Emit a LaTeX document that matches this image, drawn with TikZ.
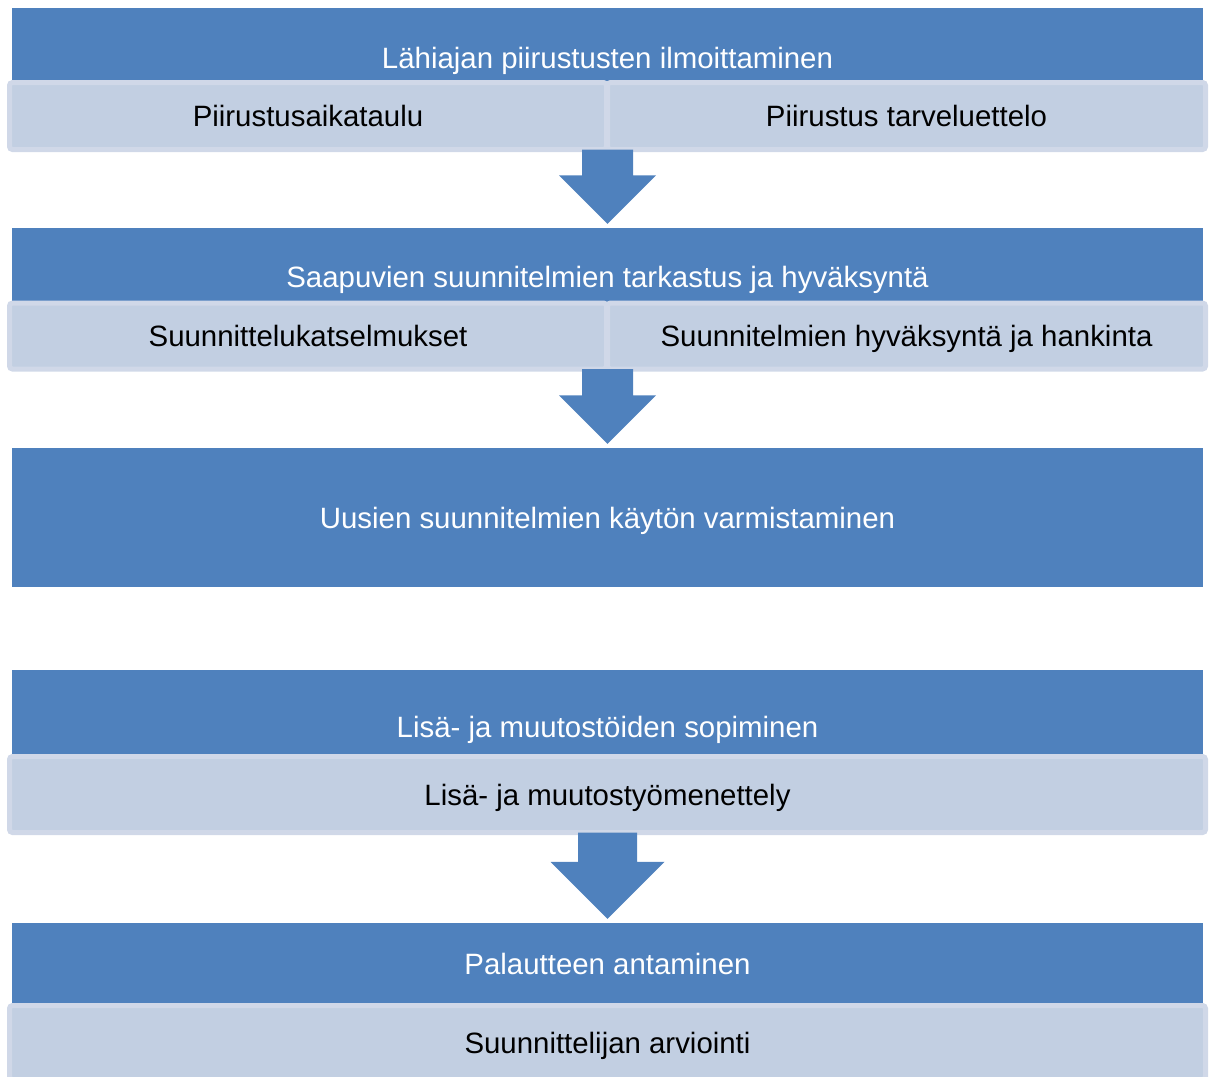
\documentclass[tikz,border=0pt]{standalone}
\usepackage{fontspec}
\setmainfont{Liberation Sans}
\usetikzlibrary{calc}

\definecolor{bandblue}{HTML}{4F81BD}
\definecolor{subfill}{HTML}{C2CFE2}
\definecolor{subline}{HTML}{D0D8E8}

% block arrow: from node, to node, half shaft, half head
\newcommand{\blockarrow}[4]{%
  \fill[bandblue] let \p1=(#1.south), \p2=(#2.north) in
    (\x2-#3pt,\y1+2.5pt) -- (\x2+#3pt,\y1+2.5pt) -- (\x2+#3pt,\y2+4pt+#4pt)
    -- (\x2+#4pt,\y2+4pt+#4pt) -- (\x2,\y2+4pt) -- (\x2-#4pt,\y2+4pt+#4pt)
    -- (\x2-#3pt,\y2+4pt+#4pt) -- cycle;}

\begin{document}
\begin{tikzpicture}[x=1pt,y=-1pt,
  band/.style={fill=bandblue,text=white,minimum width=1191pt,inner sep=0pt,
    text height=21pt,text depth=0pt,font=\fontsize{29.4}{34}\selectfont},
  sub/.style={fill=subfill,draw=subline,line width=5pt,rounded corners=3pt,
    inner sep=0pt,text height=21pt,text depth=0pt,text=black,
    font=\fontsize{29.4}{34}\selectfont}]

    \useasboundingbox (0,0) rectangle (1214,1076);

    \node[band,minimum height=100pt] (b1) at (607.5,58) {Lähiajan piirustusten ilmoittaminen};
    \node[sub,minimum width=597pt,minimum height=67pt] (s1l) at (308,116) {Piirustusaikataulu};
    \node[sub,minimum width=598pt,minimum height=67pt] (s1r) at (906.5,116) {Piirustus tarveluettelo};

    \node[band,minimum height=98pt] (b2) at (607.5,277) {Saapuvien suunnitelmien tarkastus ja hyväksyntä};
    \node[sub,minimum width=597pt,minimum height=66pt] (s2l) at (308,336) {Suunnittelukatselmukset};
    \node[sub,minimum width=598pt,minimum height=66pt] (s2r) at (906.5,336) {Suunnitelmien hyväksyntä ja hankinta};

    \node[band,minimum height=139pt] (b3) at (607.5,517.5) {Uusien suunnitelmien käytön varmistaminen};

    \node[band,minimum height=114pt] (b4) at (607.5,727) {Lisä- ja muutostöiden sopiminen};
    \node[sub,minimum width=1196pt,minimum height=76pt] (s4) at (607.5,794.5) {Lisä- ja muutostyömenettely};

    \node[band,minimum height=82pt] (b5) at (607.5,964) {Palautteen antaminen};
    \node[sub,minimum width=1196pt,minimum height=74pt] (s5) at (607.5,1042.5) {Suunnittelijan arviointi};

    \blockarrow{s1l}{b2}{25.5}{48.5}
    \blockarrow{s2l}{b3}{25.5}{48.5}
    \blockarrow{s4}{b5}{29.5}{57}
\end{tikzpicture}
\end{document}
